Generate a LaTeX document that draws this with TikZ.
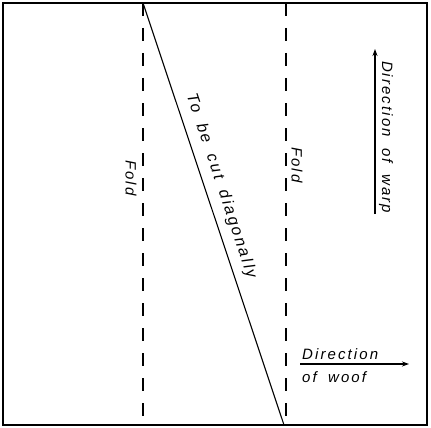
\documentclass[tikz,border=0pt]{standalone}
\usepackage{fontspec}
\newfontfamily\handfont[LetterSpace=14,WordSpace=1.8]{Liberation Sans}
\usetikzlibrary{arrows.meta}
\begin{document}
\begin{tikzpicture}[x=1pt,y=-1pt,
  sheet/.style={line width=1.6pt},
  foldline/.style={line width=1.2pt, dash pattern=on 13pt off 12pt},
  cutline/.style={line width=1.1pt},
  lbl/.style={inner sep=0pt, font=\handfont\itshape\fontsize{15}{16}\selectfont},
  dirarrow/.style={line width=1.1pt, -{Stealth[length=7pt,width=5pt]}}]
\useasboundingbox (0,0) rectangle (431,428);
\fill[white] (0,0) rectangle (431,428);
% sheet
\draw[sheet] (3,3) rectangle (427,425);
% folds
\coordinate (lf1) at (143,3);
\coordinate (lf2) at (143,425);
\coordinate (rf1) at (286,3);
\coordinate (rf2) at (286,425);
\draw[foldline] (lf1) -- (lf2);
\draw[foldline] (rf1) -- (rf2);
% diagonal cut
\coordinate (c1) at (143,3);
\coordinate (c2) at (284,425);
\draw[cutline] (c1) -- (c2);
% labels
\node[lbl, rotate=-90] (foldL) at (131,178) {Fold};
\node[lbl, rotate=-90] (foldR) at (297,165) {Fold};
\node[lbl, rotate=-71.6, font=\handfont\itshape\fontsize{16}{17}\selectfont] (cut) at (221,186) {To be cut diagonally};
% warp arrow
\coordinate (w1) at (375,214);
\coordinate (w2) at (375,49);
\draw[dirarrow] (w1) -- (w2);
\node[lbl, rotate=-90] (warp) at (386,137) {Direction of warp};
% woof arrow
\coordinate (f1) at (300,364);
\coordinate (f2) at (409,364);
\draw[dirarrow] (f1) -- (f2);
\node[lbl, anchor=west] (woof1) at (302,354) {Direction};
\node[lbl, anchor=west] (woof2) at (302,377) {of woof};
\end{tikzpicture}
\end{document}
